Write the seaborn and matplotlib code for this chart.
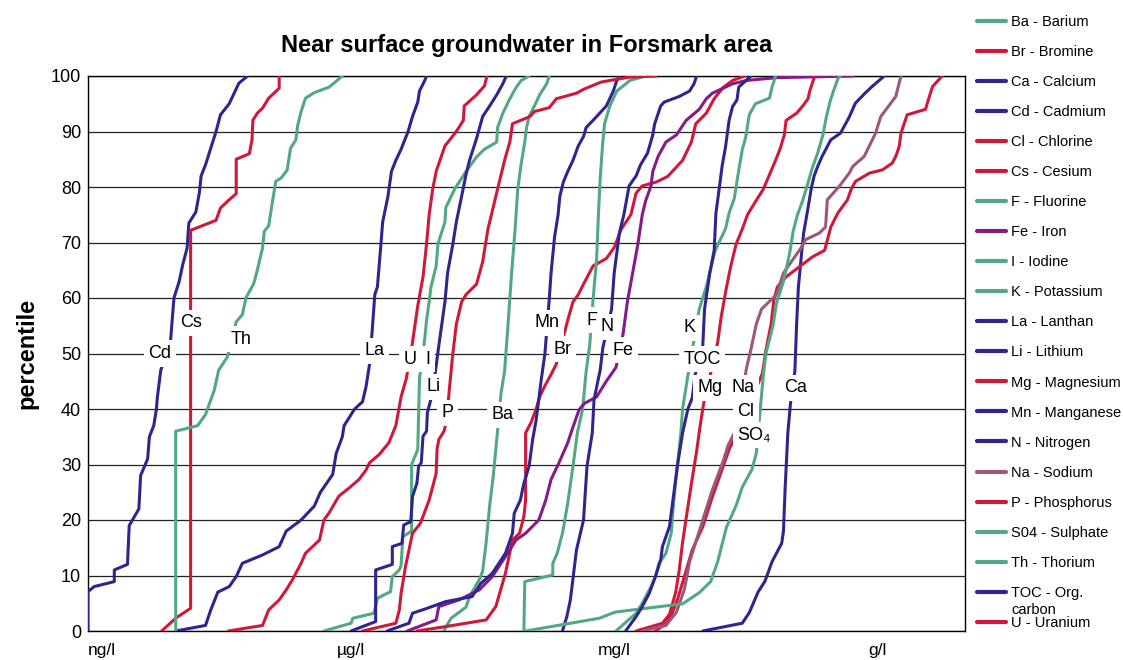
import numpy as np
import pandas as pd
import matplotlib
matplotlib.use("Agg")
import matplotlib.pyplot as plt
from matplotlib.lines import Line2D
from matplotlib.ticker import FixedLocator, FixedFormatter, NullLocator
import seaborn as sns

# Cumulative distributions: percentile (0-100) against log10 concentration (µg/l)
ba_pct = [0, 0.7, 2.3, 4.3, 6.2, 9.5, 10.8, 16, 22.6, 27.8, 34.4, 42.9, 46.8, 55.3, 64.5, 72.4, 79.6, 84.2, 88.1, 90.7, 92.7, 94.6, 96.6, 98.6, 100]
ba_log = [1.06, 1.08, 1.14, 1.31, 1.35, 1.47, 1.50, 1.54, 1.58, 1.62, 1.66, 1.71, 1.75, 1.79, 1.83, 1.87, 1.90, 1.94, 1.98, 2.00, 2.03, 2.09, 2.15, 2.23, 2.26]

br_pct = [0, 0.8, 2, 4.4, 10.4, 16.4, 17.6, 20.6, 23.6, 35.7, 37.5, 40, 42.2, 44.2, 46.2, 48.1, 56, 59.3, 60.6, 62.5, 65.8, 67.1, 69.1, 72.4, 75, 78.9, 80.2, 80.9, 81.9, 84.8, 88.1, 91.4, 93.3, 95.9, 97.9, 99.2, 100]
br_log = [0.75, 1.08, 1.54, 1.65, 1.76, 1.84, 1.92, 1.97, 1.99, 1.99, 2.05, 2.11, 2.15, 2.21, 2.28, 2.34, 2.47, 2.53, 2.59, 2.65, 2.76, 2.91, 3.00, 3.08, 3.19, 3.25, 3.32, 3.48, 3.61, 3.78, 3.88, 3.93, 4.05, 4.14, 4.24, 4.35, 4.49]

ca_pct = [0, 1.4, 3.3, 7, 9, 12.5, 15.8, 18, 26, 35.7, 41, 46.8, 55.3, 61.9, 68.6, 71.7, 75.3, 80, 82, 83.7, 85.5, 86.7, 88.5, 89.7, 92.6, 95.1, 96.9, 98.1, 100]
ca_log = [4.01, 4.46, 4.54, 4.64, 4.72, 4.80, 4.91, 4.93, 4.95, 4.98, 5.01, 5.06, 5.08, 5.10, 5.14, 5.16, 5.20, 5.25, 5.28, 5.32, 5.37, 5.41, 5.47, 5.58, 5.68, 5.75, 5.86, 5.94, 6.08]

cd_pct = [0, 7.1, 8, 8.9, 11, 12, 19, 22, 28, 31, 35, 37, 40, 42, 47, 52, 60, 63, 66, 69, 73.5, 75.5, 79, 82, 84, 88, 90, 93, 95, 98.7, 100]
cd_log = [-3.0, -3.0, -2.93, -2.70, -2.70, -2.55, -2.53, -2.42, -2.40, -2.32, -2.30, -2.25, -2.22, -2.21, -2.17, -2.06, -2.02, -1.96, -1.92, -1.87, -1.85, -1.77, -1.73, -1.71, -1.66, -1.58, -1.54, -1.49, -1.39, -1.28, -1.18]

cl_pct = [0, 1.3, 3.2, 5.6, 9.8, 14.6, 18.8, 24.2, 30.9, 32.7, 36, 46.4, 50.6, 55.4, 59.6, 62, 63.8, 65.6, 67.4, 68.6, 72.8, 75.3, 77.7, 79.5, 81, 82.5, 83.1, 84.3, 85.5, 87.3, 89.7, 93, 94, 95.1, 98.1, 100]
cl_log = [3.47, 3.59, 3.66, 3.72, 3.80, 3.89, 4.01, 4.12, 4.27, 4.31, 4.41, 4.69, 4.73, 4.79, 4.82, 4.86, 4.96, 5.11, 5.26, 5.40, 5.47, 5.55, 5.66, 5.70, 5.75, 5.91, 6.06, 6.17, 6.21, 6.25, 6.27, 6.34, 6.55, 6.57, 6.63, 6.74]

cs_pct = [0, 2.3, 4.1, 72.2, 73, 74, 76.2, 77.7, 78.8, 85, 86, 88.5, 92, 93.3, 94.2, 96, 97.2, 97.8, 100]
cs_log = [-2.16, -2.0, -1.83, -1.83, -1.70, -1.54, -1.49, -1.39, -1.31, -1.31, -1.16, -1.13, -1.12, -1.07, -1.01, -0.94, -0.86, -0.82, -0.82]

f_pct = [0, 8.9, 10.1, 12.2, 14, 17.6, 23, 29.7, 35.7, 40, 46.8, 51.4, 59.9, 67.1, 75, 81.5, 88.1, 91.4, 94.6, 97.3, 99.2, 100]
f_log = [1.97, 1.98, 2.30, 2.30, 2.35, 2.41, 2.47, 2.53, 2.58, 2.64, 2.68, 2.72, 2.76, 2.80, 2.82, 2.84, 2.87, 2.89, 2.95, 3.03, 3.18, 3.36]

fe_pct = [0, 2, 4.4, 5.6, 7.4, 9.8, 13.4, 16.4, 17.6, 20, 23.6, 27.3, 30.3, 33.9, 36.3, 39.9, 41, 42.2, 45, 47.5, 53.4, 59.3, 64.5, 69.7, 75, 77.6, 80.2, 82.8, 85.5, 88.1, 89.4, 92, 94, 95.9, 96.9, 98.6, 99.2, 99.7, 100]
fe_log = [0.64, 0.97, 1.00, 1.23, 1.46, 1.61, 1.76, 1.88, 1.99, 2.14, 2.22, 2.28, 2.37, 2.47, 2.52, 2.60, 2.66, 2.80, 2.91, 3.02, 3.10, 3.15, 3.21, 3.27, 3.32, 3.36, 3.42, 3.44, 3.50, 3.59, 3.71, 3.82, 3.97, 4.05, 4.12, 4.35, 4.51, 4.85, 5.72]

i_pct = [0, 1.4, 2.3, 3.2, 5.9, 7.1, 9.8, 11, 11.8, 17, 18, 30, 32.7, 45.5, 52.7, 56, 59.3, 61.9, 65.8, 69.7, 73.7, 76.3, 79.6, 82.8, 85.4, 86.8, 88.1, 90.7, 93.3, 95.9, 97.9, 99.2, 100]
i_log = [-0.31, 0.0, 0.02, 0.26, 0.30, 0.45, 0.47, 0.55, 0.57, 0.59, 0.69, 0.69, 0.76, 0.78, 0.84, 0.86, 0.89, 0.91, 0.97, 0.99, 1.07, 1.08, 1.18, 1.31, 1.43, 1.52, 1.66, 1.67, 1.73, 1.81, 1.88, 1.94, 2.03]

k_pct = [0, 3.2, 5, 8, 9.8, 12.2, 14, 17.6, 23.6, 29.7, 35.7, 40, 46, 58, 62, 68.5, 72.5, 75.3, 78, 83, 86.7, 89, 93, 95, 96, 98, 100]
k_log = [3.02, 3.25, 3.32, 3.42, 3.47, 3.51, 3.59, 3.65, 3.68, 3.72, 3.76, 3.78, 3.84, 3.97, 4.05, 4.15, 4.27, 4.31, 4.37, 4.42, 4.46, 4.50, 4.54, 4.61, 4.77, 4.80, 4.84]

la_pct = [0, 1, 3.8, 7, 8, 9.8, 12.2, 13.7, 15.2, 18, 20, 22.5, 25, 28.2, 32, 35, 37, 40, 41.3, 44, 48, 54, 60.6, 62, 69.7, 73.7, 78.3, 82.8, 84.8, 86.8, 90, 92.7, 95.3, 97.3, 99.2, 100]
la_log = [-2.0, -1.66, -1.60, -1.52, -1.39, -1.31, -1.24, -1.01, -0.82, -0.74, -0.57, -0.42, -0.35, -0.21, -0.17, -0.10, -0.08, 0.04, 0.13, 0.17, 0.21, 0.24, 0.27, 0.30, 0.34, 0.36, 0.42, 0.46, 0.51, 0.57, 0.65, 0.70, 0.76, 0.78, 0.84, 0.86]

li_pct = [0, 1.7, 11, 12, 15.2, 15.8, 19.1, 19.7, 24.2, 26.6, 29.7, 30.3, 35.1, 36, 39.3, 43, 51.4, 59.3, 64.5, 69.7, 73.7, 78.3, 82.2, 84.8, 88.7, 92.7, 94.6, 96.6, 98.6, 100]
li_log = [0.0, 0.28, 0.28, 0.47, 0.47, 0.58, 0.60, 0.68, 0.70, 0.75, 0.77, 0.80, 0.82, 0.86, 0.87, 0.93, 1.00, 1.07, 1.10, 1.16, 1.20, 1.26, 1.31, 1.35, 1.43, 1.50, 1.58, 1.66, 1.73, 1.77]

mg_pct = [0, 1.4, 3, 6.9, 10.8, 16, 21.3, 26.5, 32.4, 37, 41, 52, 56.6, 61.9, 65.8, 69.7, 72.4, 75, 77.6, 79.6, 82.2, 84.8, 86.8, 89.4, 92, 93.3, 94.6, 95.9, 97.3, 99.2, 100]
mg_log = [3.25, 3.55, 3.63, 3.70, 3.74, 3.78, 3.83, 3.88, 3.94, 3.98, 4.02, 4.18, 4.22, 4.28, 4.33, 4.39, 4.46, 4.52, 4.62, 4.70, 4.77, 4.84, 4.89, 4.94, 4.96, 5.08, 5.15, 5.21, 5.23, 5.27, 5.29]

mn_pct = [0, 1.4, 3.2, 4, 5.3, 6.2, 8.6, 10.4, 14, 17.6, 21.2, 23.6, 26.6, 29.7, 34.5, 38, 41.7, 45.5, 50, 59.9, 64.5, 71, 75, 78.3, 80.9, 82.8, 84.8, 87.4, 89.1, 90.7, 92.7, 94.6, 97.3, 99.2, 100]
mn_log = [0.41, 0.66, 0.70, 0.85, 1.08, 1.38, 1.48, 1.61, 1.76, 1.84, 1.86, 1.93, 1.97, 2.03, 2.07, 2.11, 2.14, 2.17, 2.21, 2.26, 2.28, 2.32, 2.36, 2.38, 2.42, 2.47, 2.53, 2.59, 2.65, 2.68, 2.80, 2.91, 2.99, 3.03, 3.06]

n_pct = [0, 2.6, 5.6, 14.6, 20, 29.7, 35.7, 41.7, 47, 51, 58, 64.5, 71.8, 75, 80.2, 82, 84, 86.1, 89.4, 91.3, 94.6, 95.3, 96.3, 97.3, 98.6, 100]
n_log = [2.41, 2.46, 2.50, 2.57, 2.65, 2.69, 2.75, 2.77, 2.84, 2.87, 2.97, 3.00, 3.06, 3.11, 3.17, 3.25, 3.30, 3.38, 3.44, 3.46, 3.53, 3.57, 3.74, 3.86, 3.91, 3.94]

na_pct = [0, 1, 3.4, 7.5, 12.5, 17, 21, 25, 28, 30.5, 33.5, 36.3, 47.5, 50.8, 55.3, 58, 60.6, 64.5, 67, 69, 70.5, 71.7, 72.8, 77.7, 80, 82.5, 83.7, 85.5, 89.7, 92.7, 96.3, 100]
na_log = [3.32, 3.59, 3.71, 3.80, 3.86, 3.95, 4.03, 4.11, 4.18, 4.24, 4.30, 4.39, 4.51, 4.56, 4.62, 4.68, 4.85, 4.93, 5.04, 5.13, 5.18, 5.34, 5.41, 5.43, 5.56, 5.68, 5.72, 5.85, 5.98, 6.04, 6.21, 6.27]

p_pct = [0, 1.4, 3.8, 6.8, 11.6, 17.6, 19.4, 23.6, 28.4, 32.7, 34.5, 36, 38, 43.5, 50, 55.3, 59.3, 60.6, 62.5, 66.5, 72.4, 76.3, 80.9, 84.8, 88.1, 91.4, 92.7, 93.6, 94.3, 95.9, 96.9, 97.6, 98.9, 99.3, 99.8, 100]
p_log = [0.13, 0.51, 0.55, 0.57, 0.62, 0.70, 0.79, 0.89, 0.97, 0.98, 1.00, 1.06, 1.09, 1.12, 1.16, 1.20, 1.26, 1.31, 1.43, 1.50, 1.56, 1.62, 1.69, 1.75, 1.81, 1.84, 2.04, 2.09, 2.26, 2.34, 2.57, 2.65, 2.85, 2.99, 3.18, 3.48]

so4_pct = [0, 2.3, 3.4, 4.9, 6.9, 8.9, 12.5, 18.7, 22.6, 25.9, 29.1, 32, 46, 50, 55, 59, 63, 68, 72, 75, 77.6, 80.2, 83.5, 86.1, 89.4, 92.7, 95.3, 97.3, 99.5, 100]
so4_log = [1.99, 2.83, 3.01, 3.78, 3.97, 4.10, 4.18, 4.28, 4.39, 4.46, 4.57, 4.62, 4.70, 4.73, 4.81, 4.85, 4.93, 5.00, 5.04, 5.09, 5.15, 5.20, 5.26, 5.32, 5.38, 5.42, 5.46, 5.50, 5.55, 5.58]

th_pct = [0, 36, 37, 39, 43.4, 47, 49.4, 55.7, 57, 60, 62.6, 65, 69, 72, 73, 81, 81.6, 83, 87, 88.5, 91, 93.6, 96, 97, 98, 100]
th_log = [-2.0, -2.0, -1.75, -1.66, -1.56, -1.51, -1.41, -1.31, -1.24, -1.20, -1.11, -1.07, -1.01, -0.99, -0.94, -0.86, -0.80, -0.73, -0.69, -0.63, -0.61, -0.57, -0.52, -0.42, -0.25, -0.10]

toc_pct = [0, 2.6, 4.4, 6.8, 9.8, 12.8, 15.2, 18.8, 23.6, 29.7, 35.7, 40, 42, 46, 51.4, 58, 64.5, 68.6, 75.3, 80, 83.7, 87.3, 92, 94.5, 95.7, 98, 100]
toc_log = [3.13, 3.25, 3.32, 3.40, 3.47, 3.53, 3.55, 3.63, 3.67, 3.72, 3.78, 3.84, 3.89, 3.92, 4.01, 4.03, 4.09, 4.14, 4.16, 4.20, 4.23, 4.27, 4.31, 4.35, 4.40, 4.42, 4.56]

u_pct = [0, 1, 3.8, 5.6, 7.4, 9.2, 12.2, 14, 15.2, 16.4, 20, 21.3, 24.3, 25.8, 27.3, 29, 30.3, 31.8, 33.9, 37, 42.2, 45.5, 52, 58.6, 63.8, 69.7, 75, 79.6, 82.8, 87.4, 90, 92, 94.6, 96.6, 98.2, 100]
u_log = [-1.40, -1.01, -0.94, -0.82, -0.74, -0.67, -0.57, -0.52, -0.44, -0.36, -0.31, -0.25, -0.14, -0.02, 0.09, 0.17, 0.21, 0.32, 0.43, 0.51, 0.57, 0.63, 0.70, 0.76, 0.82, 0.86, 0.89, 0.93, 0.97, 1.07, 1.20, 1.28, 1.29, 1.43, 1.52, 1.55]

codes = ["Ba", "Br", "Ca", "Cd", "Cl", "Cs", "F", "Fe", "I", "K", "La",
         "Li", "Mg", "Mn", "N", "Na", "P", "SO4", "Th", "TOC", "U"]
legend_labels = ["Ba - Barium", "Br - Bromine", "Ca - Calcium", "Cd - Cadmium",
                 "Cl - Chlorine", "Cs - Cesium", "F - Fluorine", "Fe - Iron",
                 "I - Iodine", "K - Potassium", "La - Lanthan", "Li - Lithium",
                 "Mg - Magnesium", "Mn - Manganese", "N - Nitrogen", "Na - Sodium",
                 "P - Phosphorus", "S04 - Sulphate", "Th - Thorium", "TOC - Org.",
                 "U - Uranium"]
curve_labels = ["Ba", "Br", "Ca", "Cd", "Cl", "Cs", "F", "Fe", "I", "K", "La",
                "Li", "Mg", "Mn", "N", "Na", "P", "SO\u2084", "Th", "TOC", "U"]
pct_data = [ba_pct, br_pct, ca_pct, cd_pct, cl_pct, cs_pct, f_pct, fe_pct, i_pct,
            k_pct, la_pct, li_pct, mg_pct, mn_pct, n_pct, na_pct, p_pct, so4_pct,
            th_pct, toc_pct, u_pct]
log_data = [ba_log, br_log, ca_log, cd_log, cl_log, cs_log, f_log, fe_log, i_log,
            k_log, la_log, li_log, mg_log, mn_log, n_log, na_log, p_log, so4_log,
            th_log, toc_log, u_log]

# Percentile at which each curve carries its name, plus a small sideways nudge (px)
label_pct = [39, 50.8, 43.8, 50, 39.5, 55.5, 56, 50.6, 49, 54.6, 50.5,
             44, 43.8, 55.5, 54.8, 43.8, 39.3, 35.3, 52.6, 49, 49]
label_dx = [3, 2, 3, -7, 0, 0, 0, 3, 6, -7, 4,
            0, 3, 0, 0, 0, 0, -4, 9, 3, 0]

GREEN = "#52A882"
RED = "#D0193A"
BLUE = "#30248D"
PURPLE = "#861A88"
MAUVE = "#9C5779"
palette = {"Ba": GREEN, "Br": RED, "Ca": BLUE, "Cd": BLUE, "Cl": RED, "Cs": RED,
           "F": GREEN, "Fe": PURPLE, "I": GREEN, "K": GREEN, "La": BLUE, "Li": BLUE,
           "Mg": RED, "Mn": BLUE, "N": BLUE, "Na": MAUVE, "P": RED, "SO4": GREEN,
           "Th": GREEN, "TOC": BLUE, "U": RED}

frames = []
for code, pc, lg in zip(codes, pct_data, log_data):
    frames.append(pd.DataFrame({"code": code, "pct": pc,
                                "conc": np.power(10.0, np.asarray(lg, float))}))
df = pd.concat(frames, ignore_index=True)

sns.set_style("white")
plt.rcParams["font.family"] = ["Liberation Sans", "DejaVu Sans"]
plt.rcParams["text.color"] = "black"
plt.rcParams["axes.labelcolor"] = "black"
plt.rcParams["xtick.color"] = "black"
plt.rcParams["ytick.color"] = "black"

fig = plt.figure(figsize=(11.23, 6.60), dpi=100)
ax = fig.add_axes([88 / 1123, 29 / 660, 877 / 1123, 555 / 660])
ax.set_xscale("log")

sns.lineplot(data=df, x="conc", y="pct", hue="code", hue_order=codes,
             palette=palette, estimator=None, sort=False, linewidth=2.2,
             legend=False, ax=ax, zorder=3)

ax.set_xlim(1e-3, 1e7)
ax.set_ylim(0, 100)

decades = [10.0 ** k for k in range(-3, 8)]
unit_names = {-3: "ng/l", 0: "\u00b5g/l", 3: "mg/l", 6: "g/l"}
ax.xaxis.set_major_locator(FixedLocator(decades))
ax.xaxis.set_major_formatter(FixedFormatter([unit_names.get(k, "") for k in range(-3, 8)]))
ax.xaxis.set_minor_locator(NullLocator())
ax.tick_params(axis="x", direction="out", length=5, width=1, color="black",
               labelcolor="black", labelsize=12.5, pad=4)
ax.get_xticklabels()[0].set_horizontalalignment("left")
ax.set_yticks(np.arange(0, 101, 10))
ax.tick_params(axis="y", length=0, labelsize=13, labelcolor="black", pad=5)

ax.yaxis.grid(True, color="#222222", linewidth=0.9, zorder=0)
ax.xaxis.grid(False)
ax.set_axisbelow(True)
for side in ["left", "right", "top", "bottom"]:
    ax.spines[side].set_visible(True)
    ax.spines[side].set_color("black")
    ax.spines[side].set_linewidth(1.0)

ax.set_xlabel("")
ax.set_ylabel("percentile", fontsize=17, fontweight="bold", labelpad=9,
              color="black")
ax.set_title("Near surface groundwater in Forsmark area", fontsize=17,
             fontweight="bold", pad=17, color="black")

# Element names sitting on their curves, boxed in white
for code, text, pc, lg, lp, dx in zip(codes, curve_labels, pct_data, log_data,
                                       label_pct, label_dx):
    x_at = 10.0 ** np.interp(lp, pc, lg)
    ax.annotate(text, xy=(x_at, lp), xytext=(dx, 0), textcoords="offset pixels",
                ha="center", va="center", fontsize=13, zorder=6, color="black",
                family=["Liberation Sans", "DejaVu Sans"],
                bbox=dict(boxstyle="square,pad=0.25", fc="white", ec="none"))

handles = [Line2D([], [], color=palette[c], linewidth=3) for c in codes]
leg = ax.legend(handles, legend_labels, loc="upper left",
                bbox_to_anchor=(977 / 1123, 1 - 15 / 660),
                bbox_transform=fig.transFigure, frameon=False, fontsize=10.5,
                handlelength=2.0, handletextpad=0.35, labelspacing=1.1,
                borderpad=0, borderaxespad=0, labelcolor="black")

# Second line of the TOC entry, placed just under its legend text
fig.canvas.draw()
toc_box = leg.get_texts()[codes.index("TOC")].get_window_extent()
fig.text(toc_box.x0 / fig.bbox.width, (toc_box.y0 - 3) / fig.bbox.height,
         "carbon", ha="left", va="top", fontsize=10.5, color="black")

fig.savefig("out.png", dpi=100)
